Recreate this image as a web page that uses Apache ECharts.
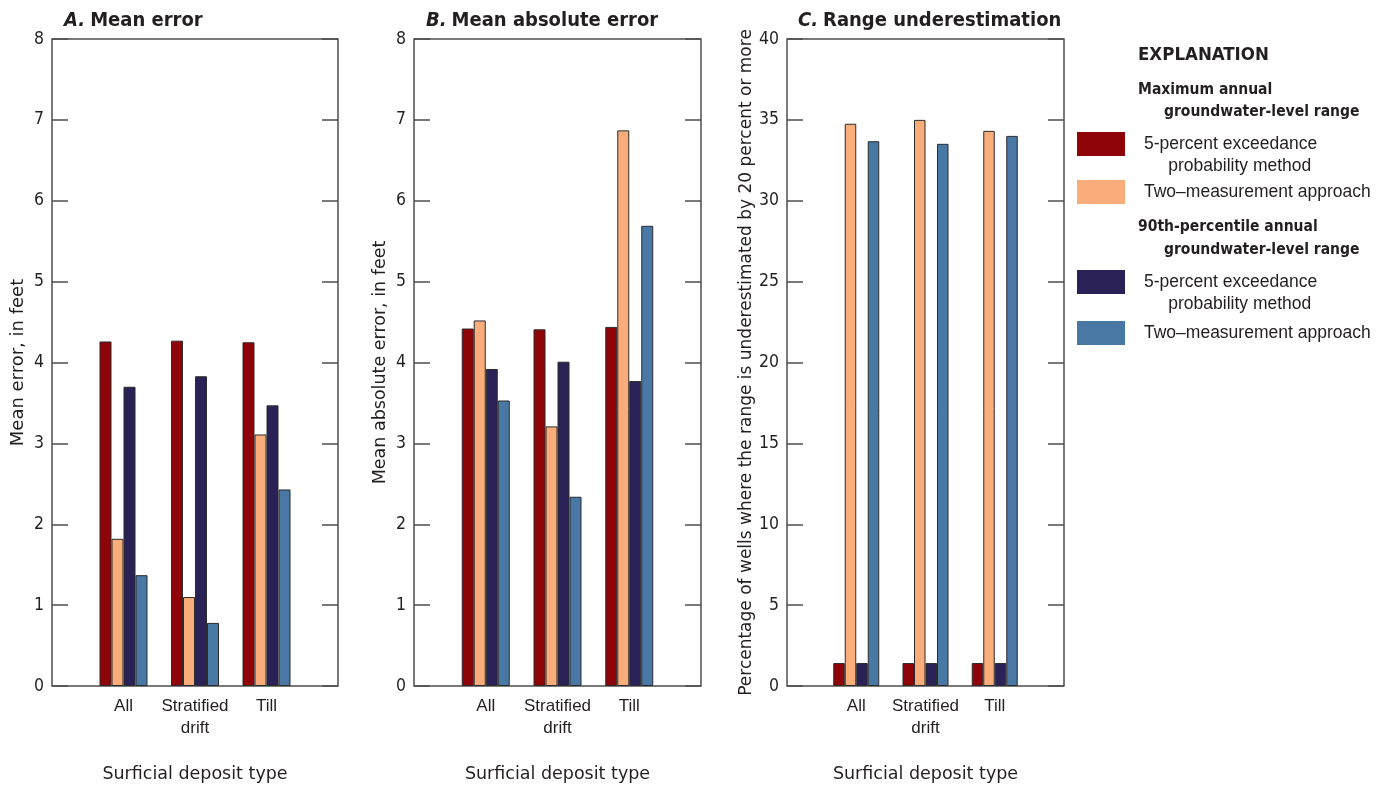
<!DOCTYPE html>
<html>
<head>
<meta charset="utf-8">
<script src="https://cdn.jsdelivr.net/npm/echarts@6/dist/echarts.min.js"></script>
<style>
  html, body { margin: 0; padding: 0; background: #fff; }
  #chart { width: 1387px; height: 788px; }
</style>
</head>
<body>
<div id="chart"></div>
<script>
// Surficial deposit types (x categories)
const categories = ['All', 'Stratified\ndrift', 'Till'];

// A. Mean error, in feet
const meanErrMax5pct = [4.26, 4.27, 4.25];
const meanErrMaxTwo  = [1.82, 1.10, 3.11];
const meanErr90_5pct = [3.70, 3.83, 3.47];
const meanErr90Two   = [1.37, 0.78, 2.43];

// B. Mean absolute error, in feet
const maeMax5pct = [4.42, 4.41, 4.44];
const maeMaxTwo  = [4.52, 3.21, 6.87];
const mae90_5pct = [3.92, 4.01, 3.77];
const mae90Two   = [3.53, 2.34, 5.69];

// C. Percentage of wells where the range is underestimated by 20 percent or more
const underMax5pct = [1.42, 1.42, 1.42];
const underMaxTwo  = [34.76, 35.00, 34.32];
const under90_5pct = [1.42, 1.42, 1.42];
const under90Two   = [33.68, 33.52, 34.01];

// Y-axis tick settings
const feetTicks = { min: 0, max: 8, interval: 1 };
const pctTicks  = { min: 0, max: 40, interval: 5 };

// Legend labels (a leading blank line keeps the swatch beside the first text line)
const SERIES = [
  { color: '#8f0409', label: '\n5-percent exceedance\n     probability method' },
  { color: '#f8ad7b', label: 'Two\u2013measurement approach' },
  { color: '#2a2256', label: '\n5-percent exceedance\n     probability method' },
  { color: '#4a78a5', label: 'Two\u2013measurement approach' }
];
const seriesNames = [
  'Maximum annual range, 5-percent exceedance probability method',
  'Maximum annual range, two-measurement approach',
  '90th-percentile annual range, 5-percent exceedance probability method',
  '90th-percentile annual range, two-measurement approach'
];

const FONT_C = "'DejaVu Sans Condensed','Liberation Sans Narrow','Arial Narrow',sans-serif";
const FONT_L = "'Liberation Sans',Arial,sans-serif";
const FONT_D = "'DejaVu Sans','Liberation Sans',sans-serif";
const INK = '#231f20';
const FRAME = '#4d4d4d';

// Pad categories so each group sits one slot in from the frame edges
const xSlots = [''].concat(categories, ['']);
const pad = arr => [null].concat(arr, [null]);

const panels = [
  { title: 'Mean error', letter: 'A.', left: 52, width: 286, yName: 'Mean error, in feet', nameGap: 25, nameSize: 18,
    ticks: feetTicks, barW: 12, data: [meanErrMax5pct, meanErrMaxTwo, meanErr90_5pct, meanErr90Two], titleLeft: 59 },
  { title: 'Mean absolute error', letter: 'B.', left: 414, width: 287, yName: 'Mean absolute error, in feet', nameGap: 25, nameSize: 17.5,
    ticks: feetTicks, barW: 12, data: [maeMax5pct, maeMaxTwo, mae90_5pct, mae90Two], titleLeft: 421 },
  { title: 'Range underestimation', letter: 'C.', left: 787, width: 277,
    yName: 'Percentage of wells where the range is underestimated by 20 percent or more', nameGap: 28, nameSize: 17,
    ticks: pctTicks, barW: 11.5, data: [underMax5pct, underMaxTwo, under90_5pct, under90Two], titleLeft: 793 }
];

const grid = [], xAxis = [], yAxis = [], series = [], title = [];
panels.forEach((p, i) => {
  grid.push({ left: p.left, top: 39, width: p.width, height: 647, show: true, outerBoundsMode: 'none',
              containLabel: false, borderColor: FRAME, borderWidth: 1.5, backgroundColor: 'transparent' });
  title.push({
    left: p.titleLeft, top: 6,
    text: '{l|' + p.letter + '} {t|' + p.title + '}',
    textStyle: { rich: {
      l: { fontFamily: FONT_C, fontSize: 20, fontWeight: 'bold', fontStyle: 'italic', color: INK },
      t: { fontFamily: FONT_C, fontSize: 20, fontWeight: 'bold', color: INK }
    } }
  });
  xAxis.push({
    type: 'category', gridIndex: i, data: xSlots, boundaryGap: false,
    axisLine: { show: false }, axisTick: { show: false }, splitLine: { show: false },
    axisLabel: { interval: 0, margin: 9, fontFamily: FONT_L, fontSize: 17, lineHeight: 22, color: INK },
    name: 'Surficial deposit type', nameLocation: 'middle', nameGap: 79,
    nameTextStyle: { fontFamily: FONT_D, fontSize: 17.5, color: INK }
  });
  const yBase = { type: 'value', gridIndex: i, min: p.ticks.min, max: p.ticks.max, interval: p.ticks.interval,
    axisLine: { show: false }, splitLine: { show: false },
    axisTick: { show: true, inside: true, length: 16, lineStyle: { color: FRAME, width: 1.5 } } };
  yAxis.push(Object.assign({}, yBase, {
    position: 'left',
    axisLabel: { margin: 8, fontFamily: FONT_C, fontSize: 17.5, color: INK },
    name: p.yName, nameLocation: 'middle', nameGap: p.nameGap, nameRotate: 90,
    nameTextStyle: { fontFamily: FONT_D, fontSize: p.nameSize, color: INK }
  }));
  yAxis.push(Object.assign({}, yBase, { position: 'right', axisLabel: { show: false } }));
  SERIES.forEach((s, k) => {
    series.push({
      type: 'bar', name: seriesNames[k], xAxisIndex: i, yAxisIndex: i * 2,
      data: pad(p.data[k]), barWidth: p.barW, barGap: '0%',
      itemStyle: { color: s.color, borderColor: '#2b2b2b', borderWidth: 1 },
      emphasis: { disabled: true }
    });
  });
});

// Legend entries, one block per series
const legendTops = [111, 180, 249, 321];
const legend = SERIES.map((s, k) => ({
  left: 1077, top: legendTops[k], padding: 0, orient: 'vertical',
  itemWidth: 48, itemHeight: 24, icon: 'rect', selectedMode: false,
  data: [{ name: seriesNames[k], itemStyle: { borderWidth: 0 } }],
  formatter: () => s.label,
  textStyle: { fontFamily: FONT_L, fontSize: 17.5, lineHeight: 22, color: INK, padding: [0, 0, 0, 14] }
}));

// Explanation headings
const heading = (x, y, text, size) => ({
  type: 'text', x, y, silent: true,
  style: { text, x: 0, y: 0, fontFamily: FONT_C, fontSize: size, fontWeight: 'bold', fill: INK, verticalAlign: 'middle' }
});
const graphic = [
  heading(1138, 55, 'EXPLANATION', 18.5),
  heading(1138, 90, 'Maximum annual', 15.5),
  heading(1164, 112, 'groundwater-level range', 15.5),
  heading(1138, 227, '90th-percentile annual', 15.5),
  heading(1164, 250, 'groundwater-level range', 15.5)
];

const chart = echarts.init(document.getElementById('chart'), null, { renderer: 'canvas' });
chart.setOption({
  animation: false,
  backgroundColor: '#ffffff',
  title, grid, xAxis, yAxis, series, legend, graphic
});
</script>
</body>
</html>
